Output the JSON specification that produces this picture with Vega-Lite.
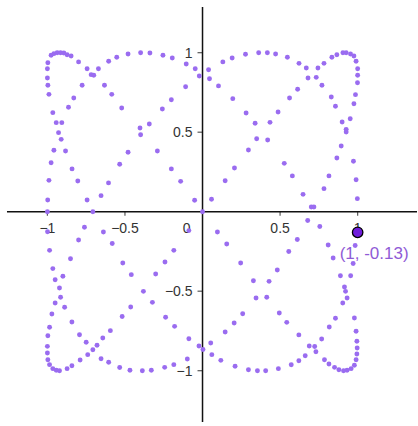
{
  "$schema": "https://vega.github.io/schema/vega-lite/v6.json",
  "width": 418,
  "height": 426,
  "autosize": {"type": "fit", "contains": "padding"},
  "padding": 0,
  "background": "white",
  "config": {"view": {"stroke": null}, "font": "Liberation Sans"},
  "datasets": {
    "trace": [
      {"x": -0.976, "y": 0.984}, {"x": -0.958, "y": 0.994}, {"x": -0.937, "y": 1.0}, {"x": -0.915, "y": 1.0},
      {"x": -0.894, "y": 0.998}, {"x": -0.873, "y": 0.987}, {"x": -0.847, "y": 0.979}, {"x": -0.997, "y": 0.937},
      {"x": -1.0, "y": 0.899}, {"x": -1.0, "y": 0.841}, {"x": -0.997, "y": 0.795}, {"x": -0.99, "y": 0.738},
      {"x": -0.799, "y": 0.942}, {"x": -0.744, "y": 0.899}, {"x": -0.718, "y": 0.862}, {"x": -0.701, "y": 0.858},
      {"x": -0.671, "y": 0.899}, {"x": -0.605, "y": 0.946}, {"x": -0.553, "y": 0.971}, {"x": -0.776, "y": 0.795},
      {"x": -0.83, "y": 0.715}, {"x": -0.864, "y": 0.657}, {"x": -0.632, "y": 0.795}, {"x": -0.585, "y": 0.738},
      {"x": -0.521, "y": 0.652}, {"x": -0.965, "y": 0.623}, {"x": -0.943, "y": 0.56}, {"x": -0.907, "y": 0.56},
      {"x": -0.928, "y": 0.497}, {"x": -0.911, "y": 0.455}, {"x": -0.958, "y": 0.386}, {"x": -0.883, "y": 0.382},
      {"x": -0.976, "y": 0.308}, {"x": -0.841, "y": 0.269}, {"x": -0.99, "y": 0.197}, {"x": -0.804, "y": 0.193},
      {"x": -0.998, "y": 0.074}, {"x": -0.744, "y": 0.074}, {"x": -0.654, "y": 0.101}, {"x": -0.606, "y": 0.181},
      {"x": -0.534, "y": 0.298}, {"x": -1.0, "y": 0.0}, {"x": -0.707, "y": 0.0}, {"x": -0.48, "y": 0.992},
      {"x": -0.399, "y": 1.0}, {"x": -0.339, "y": 0.998}, {"x": -0.255, "y": 0.984}, {"x": -0.195, "y": 0.967},
      {"x": -0.105, "y": 0.929}, {"x": -0.047, "y": 0.899}, {"x": -0.021, "y": 0.853}, {"x": -0.109, "y": 0.786},
      {"x": -0.201, "y": 0.704}, {"x": -0.259, "y": 0.646}, {"x": -0.403, "y": 0.526}, {"x": -0.399, "y": 0.484},
      {"x": -0.343, "y": 0.552}, {"x": -0.48, "y": 0.374}, {"x": -0.291, "y": 0.382}, {"x": -0.201, "y": 0.269},
      {"x": -0.141, "y": 0.191}, {"x": -0.051, "y": 0.072}, {"x": 0.0, "y": 0.0},
      {"x": 0.039, "y": 0.893}, {"x": 0.045, "y": 0.836}, {"x": 0.131, "y": 0.942}, {"x": 0.191, "y": 0.967},
      {"x": 0.277, "y": 0.99}, {"x": 0.362, "y": 1.0}, {"x": 0.418, "y": 1.0}, {"x": 0.471, "y": 0.992},
      {"x": 0.547, "y": 0.971}, {"x": 0.622, "y": 0.933}, {"x": 0.669, "y": 0.904}, {"x": 0.68, "y": 0.841},
      {"x": 0.733, "y": 0.845}, {"x": 0.744, "y": 0.904}, {"x": 0.783, "y": 0.933}, {"x": 0.834, "y": 0.971},
      {"x": 0.866, "y": 0.987}, {"x": 0.905, "y": 1.0}, {"x": 0.926, "y": 1.0}, {"x": 0.954, "y": 0.992},
      {"x": 0.976, "y": 0.979}, {"x": 0.99, "y": 0.946}, {"x": 1.0, "y": 0.899}, {"x": 1.0, "y": 0.858},
      {"x": 0.999, "y": 0.811}, {"x": 0.986, "y": 0.736}, {"x": 0.976, "y": 0.679}, {"x": 0.952, "y": 0.585},
      {"x": 0.9, "y": 0.564}, {"x": 0.926, "y": 0.518}, {"x": 0.926, "y": 0.501}, {"x": 0.894, "y": 0.413},
      {"x": 0.866, "y": 0.338}, {"x": 0.973, "y": 0.317}, {"x": 0.99, "y": 0.201}, {"x": 0.998, "y": 0.082},
      {"x": 0.815, "y": 0.225}, {"x": 0.783, "y": 0.145}, {"x": 0.648, "y": 0.109}, {"x": 0.579, "y": 0.225},
      {"x": 0.527, "y": 0.304}, {"x": 0.701, "y": 0.03}, {"x": 0.718, "y": 0.03}, {"x": 0.857, "y": 0.663},
      {"x": 0.83, "y": 0.721}, {"x": 0.77, "y": 0.795}, {"x": 0.613, "y": 0.77}, {"x": 0.561, "y": 0.715},
      {"x": 0.487, "y": 0.627}, {"x": 0.435, "y": 0.562}, {"x": 0.42, "y": 0.451}, {"x": 0.349, "y": 0.459},
      {"x": 0.339, "y": 0.556}, {"x": 0.281, "y": 0.621}, {"x": 0.195, "y": 0.711}, {"x": 0.103, "y": 0.791},
      {"x": 0.296, "y": 0.388}, {"x": 0.206, "y": 0.275}, {"x": 0.146, "y": 0.195}, {"x": 0.058, "y": 0.078},
      {"x": -0.999, "y": -0.126}, {"x": -0.986, "y": -0.243}, {"x": -0.965, "y": -0.358}, {"x": -0.95, "y": -0.428},
      {"x": -0.9, "y": -0.406}, {"x": -0.922, "y": -0.48}, {"x": -0.915, "y": -0.538}, {"x": -0.95, "y": -0.574},
      {"x": -0.889, "y": -0.601}, {"x": -0.971, "y": -0.643}, {"x": -0.842, "y": -0.694}, {"x": -0.986, "y": -0.727},
      {"x": -0.997, "y": -0.78}, {"x": -0.793, "y": -0.774}, {"x": -0.75, "y": -0.821}, {"x": -1.0, "y": -0.847},
      {"x": -1.0, "y": -0.889}, {"x": -0.997, "y": -0.931}, {"x": -0.986, "y": -0.962}, {"x": -0.965, "y": -0.987},
      {"x": -0.943, "y": -0.997}, {"x": -0.922, "y": -1.0}, {"x": -0.873, "y": -0.987}, {"x": -0.842, "y": -0.969},
      {"x": -0.789, "y": -0.933}, {"x": -0.74, "y": -0.899}, {"x": -0.707, "y": -0.868}, {"x": -0.68, "y": -0.84},
      {"x": -0.643, "y": -0.794}, {"x": -0.594, "y": -0.748}, {"x": -0.654, "y": -0.925}, {"x": -0.605, "y": -0.947},
      {"x": -0.534, "y": -0.98}, {"x": -0.518, "y": -0.659}, {"x": -0.761, "y": -0.098}, {"x": -0.639, "y": -0.128},
      {"x": -0.799, "y": -0.178}, {"x": -0.851, "y": -0.296}, {"x": -0.514, "y": -0.323}, {"x": -0.582, "y": -0.2},
      {"x": -0.088, "y": -0.119}, {"x": -0.185, "y": -0.243}, {"x": -0.242, "y": -0.316}, {"x": -0.302, "y": -0.392},
      {"x": -0.381, "y": -0.501}, {"x": -0.323, "y": -0.57}, {"x": -0.459, "y": -0.396}, {"x": -0.463, "y": -0.599},
      {"x": -0.238, "y": -0.664}, {"x": -0.18, "y": -0.721}, {"x": -0.088, "y": -0.799}, {"x": -0.023, "y": -0.845},
      {"x": -0.098, "y": -0.926}, {"x": -0.185, "y": -0.962}, {"x": -0.244, "y": -0.979}, {"x": -0.33, "y": -0.997},
      {"x": -0.388, "y": -1.0}, {"x": -0.468, "y": -0.997},
      {"x": 0.096, "y": -0.128}, {"x": 0.156, "y": -0.203}, {"x": 0.246, "y": -0.323}, {"x": 0.328, "y": -0.434},
      {"x": 0.345, "y": -0.543}, {"x": 0.414, "y": -0.538}, {"x": 0.429, "y": -0.438}, {"x": 0.482, "y": -0.367},
      {"x": 0.556, "y": -0.25}, {"x": 0.611, "y": -0.175}, {"x": 0.678, "y": -0.055}, {"x": 0.756, "y": -0.093},
      {"x": 0.81, "y": -0.209}, {"x": 0.842, "y": -0.291}, {"x": 0.889, "y": -0.403}, {"x": 0.915, "y": -0.474},
      {"x": 0.932, "y": -0.543}, {"x": 0.979, "y": -0.669}, {"x": 0.99, "y": -0.752}, {"x": 0.995, "y": -0.815},
      {"x": 0.997, "y": -0.857}, {"x": 0.995, "y": -0.895}, {"x": 0.99, "y": -0.931}, {"x": 0.979, "y": -0.966},
      {"x": 0.958, "y": -0.987}, {"x": 0.932, "y": -0.997}, {"x": 0.909, "y": -1.0}, {"x": 0.879, "y": -0.994},
      {"x": 0.851, "y": -0.979}, {"x": 0.815, "y": -0.958}, {"x": 0.786, "y": -0.931}, {"x": 0.731, "y": -0.881},
      {"x": 0.688, "y": -0.845}, {"x": 0.621, "y": -0.775}, {"x": 0.543, "y": -0.696}, {"x": 0.495, "y": -0.637},
      {"x": 0.259, "y": -0.642}, {"x": 0.204, "y": -0.7}, {"x": 0.146, "y": -0.757}, {"x": 0.053, "y": -0.826},
      {"x": 0.003, "y": -0.867}, {"x": 0.06, "y": -0.899}, {"x": 0.118, "y": -0.935}, {"x": 0.21, "y": -0.972},
      {"x": 0.296, "y": -0.994}, {"x": 0.354, "y": -1.0}, {"x": 0.407, "y": -1.0}, {"x": 0.489, "y": -0.987},
      {"x": 0.572, "y": -0.963}, {"x": 0.621, "y": -0.937}, {"x": 0.662, "y": -0.906}, {"x": 0.723, "y": -0.848},
      {"x": 0.768, "y": -0.801}, {"x": 0.817, "y": -0.725}, {"x": 0.857, "y": -0.67}, {"x": 0.904, "y": -0.574},
      {"x": 0.922, "y": -0.501}, {"x": 0.955, "y": -0.403}, {"x": 0.971, "y": -0.326}, {"x": 0.984, "y": -0.213}
    ],
    "xticks": [
      {"v": -1, "lab": "−1"}, {"v": -0.5, "lab": "−0.5"}, {"v": 0.5, "lab": "0.5"}, {"v": 1, "lab": "1"}
    ],
    "yticks": [
      {"v": 1, "lab": "1"}, {"v": 0.5, "lab": "0.5"}, {"v": -0.5, "lab": "−0.5"}, {"v": -1, "lab": "−1"}
    ],
    "marker": [
      {"x": 1, "y": -0.13, "lab": "(1, -0.13)"}
    ]
  },
  "layer": [
    {
      "data": {"values": [{}]},
      "mark": {"type": "rule", "color": "#111111", "strokeWidth": 1.5},
      "encoding": {
        "x": {"datum": -1.2605, "type": "quantitative", "scale": {"domain": [-1.3055, 1.3826], "nice": false, "zero": false}, "axis": null},
        "x2": {"datum": 1.3826},
        "y": {"datum": 0, "type": "quantitative", "scale": {"domain": [-1.3478, 1.3314], "nice": false, "zero": false}, "axis": null}
      }
    },
    {
      "data": {"values": [{}]},
      "mark": {"type": "rule", "color": "#111111", "strokeWidth": 1.5},
      "encoding": {
        "x": {"datum": 0, "type": "quantitative", "axis": null},
        "y": {"datum": 1.2874, "type": "quantitative", "axis": null},
        "y2": {"datum": -1.3226}
      }
    },
    {
      "data": {"name": "xticks"},
      "mark": {"type": "tick", "orient": "vertical", "size": 4, "thickness": 1.2, "yOffset": 2, "color": "#111111"},
      "encoding": {
        "x": {"field": "v", "type": "quantitative", "axis": null},
        "y": {"datum": 0, "type": "quantitative", "axis": null}
      }
    },
    {
      "data": {"name": "yticks"},
      "mark": {"type": "tick", "orient": "horizontal", "size": 5, "thickness": 1.2, "xOffset": -2.5, "color": "#111111"},
      "encoding": {
        "y": {"field": "v", "type": "quantitative", "axis": null},
        "x": {"datum": 0, "type": "quantitative", "axis": null}
      }
    },
    {
      "data": {"name": "xticks"},
      "mark": {"type": "text", "align": "center", "baseline": "alphabetic", "dy": 21, "fontSize": 14, "color": "#333333"},
      "encoding": {
        "x": {"field": "v", "type": "quantitative", "axis": null},
        "y": {"datum": 0, "type": "quantitative", "axis": null},
        "text": {"field": "lab"}
      }
    },
    {
      "data": {"values": [{"lab": "0"}]},
      "mark": {"type": "text", "align": "right", "baseline": "alphabetic", "dx": -12, "dy": 21, "fontSize": 14, "color": "#333333"},
      "encoding": {
        "x": {"datum": 0, "type": "quantitative", "axis": null},
        "y": {"datum": 0, "type": "quantitative", "axis": null},
        "text": {"field": "lab"}
      }
    },
    {
      "data": {"name": "yticks"},
      "mark": {"type": "text", "align": "right", "baseline": "alphabetic", "dx": -10, "dy": 5, "fontSize": 14, "color": "#333333"},
      "encoding": {
        "y": {"field": "v", "type": "quantitative", "axis": null},
        "x": {"datum": 0, "type": "quantitative", "axis": null},
        "text": {"field": "lab"}
      }
    },
    {
      "data": {"name": "trace"},
      "mark": {"type": "circle", "size": 24, "opacity": 1, "color": "#9a6cf0"},
      "encoding": {
        "x": {"field": "x", "type": "quantitative", "axis": null},
        "y": {"field": "y", "type": "quantitative", "axis": null}
      }
    },
    {
      "data": {"name": "marker"},
      "mark": {"type": "point", "shape": "circle", "filled": true, "size": 110, "opacity": 1, "color": "#6f1ddb", "stroke": "#000000", "strokeWidth": 1.3},
      "encoding": {
        "x": {"field": "x", "type": "quantitative", "axis": null},
        "y": {"field": "y", "type": "quantitative", "axis": null}
      }
    },
    {
      "data": {"name": "marker"},
      "mark": {"type": "text", "align": "left", "baseline": "alphabetic", "dx": -18, "dy": 27, "fontSize": 17, "color": "#8f5bd6"},
      "encoding": {
        "x": {"field": "x", "type": "quantitative", "axis": null},
        "y": {"field": "y", "type": "quantitative", "axis": null},
        "text": {"field": "lab"}
      }
    }
  ]
}
